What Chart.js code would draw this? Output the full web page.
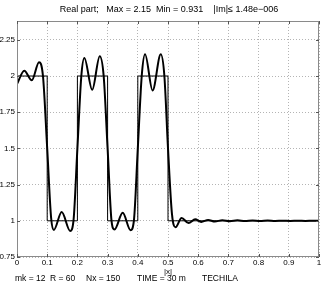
<!DOCTYPE html>
<html>
<head>
<meta charset="utf-8">
<script src="https://cdn.jsdelivr.net/npm/chart.js@4.4.1/dist/chart.umd.min.js"></script>
<style>
html,body{margin:0;padding:0;background:#fff;}
#wrap{width:323px;height:289px;position:relative;}
</style>
</head>
<body>
<div id="wrap"><canvas id="c" width="323" height="289"></canvas></div>
<script>
// Approximated solution (thick curve)
const curveX = [0,0.024,0.049,0.073,0.086,0.1,0.113,0.122,
  0.148,0.176,0.187,0.2,0.213,0.223,
  0.249,0.274,0.287,0.3,0.313,0.323,
  0.35,0.376,0.387,0.4,0.413,0.424,
  0.449,0.476,0.488,0.5,0.513,0.525,
  0.545,0.568,0.59,0.61,0.633,0.655,0.68,0.705,0.73,0.755,0.78,0.805,0.83,0.855,0.88,0.905,0.93,0.955,0.98,1];
const curveY = [1.944,2.037,1.97,2.095,2.0,1.5,1.02,0.937,
  1.06,0.93,1.0,1.5,2.0,2.125,
  1.905,2.137,2.0,1.5,1.0,0.94,
  1.055,0.935,1.0,1.5,2.0,2.15,
  1.9,2.15,2.0,1.5,1.05,0.955,
  1.02,0.984,1.01,0.992,1.006,0.995,1.004,0.997,1.003,0.998,1.002,0.999,1.002,0.999,1.001,0.999,1.001,0.999,1.001,1.0];
// Exact step profile (thin line)
const stepX = [0,0.1,0.2,0.3,0.4,0.5,1];
const stepY = [2,1,2,1,2,1,1];
const yTicks = [0.75,1,1.25,1.5,1.75,2,2.25];
const xTicks = [0,0.1,0.2,0.3,0.4,0.5,0.6,0.7,0.8,0.9,1];
const titleText = "Real part;   Max = 2.15  Min = 0.931    |Im|\u2264 1.48e\u2212006";
const footerParts = [["mk = 12",15],["R = 60",50],["Nx = 150",86],["TIME = 30 m",137],["TECHILA",202]];

const FONT = "Liberation Sans, Arial, Helvetica, sans-serif";
const fmt = v => String(+(+v).toFixed(2));

const textPlugin = {
  id: 'texts',
  afterDraw(chart) {
    const ctx = chart.ctx, a = chart.chartArea;
    const xs = chart.scales.x, ys = chart.scales.y;
    ctx.save();
    // box
    ctx.strokeStyle = '#8a8a8a';
    ctx.lineWidth = 1;
    ctx.strokeRect(a.left + 0.5, a.top + 0.5, a.right - a.left - 1, a.bottom - a.top - 1);
    // inward tick marks
    ctx.strokeStyle = '#555';
    ctx.beginPath();
    yTicks.forEach(v => {
      const p = Math.round(ys.getPixelForValue(v)) + 0.5;
      ctx.moveTo(a.left, p); ctx.lineTo(a.left + 3, p);
      ctx.moveTo(a.right, p); ctx.lineTo(a.right - 3, p);
    });
    xTicks.forEach(v => {
      const p = Math.round(xs.getPixelForValue(v)) + 0.5;
      ctx.moveTo(p, a.bottom); ctx.lineTo(p, a.bottom - 3);
      ctx.moveTo(p, a.top); ctx.lineTo(p, a.top + 3);
    });
    ctx.stroke();
    ctx.fillStyle = '#000';
    ctx.textBaseline = 'middle';
    ctx.textAlign = 'center';
    ctx.font = "9px " + FONT;
    ctx.fillText(titleText, 169, 10);
    ctx.textAlign = 'left';
    ctx.font = "8.5px " + FONT;
    footerParts.forEach(([t, x]) => ctx.fillText(t, x, 278.5));
    ctx.restore();
  }
};

new Chart(document.getElementById('c'), {
  type: 'line',
  data: {
    datasets: [
      {
        data: curveX.map((x, i) => ({x, y: curveY[i]})),
        borderColor: '#000', borderWidth: 2, pointRadius: 0,
        cubicInterpolationMode: 'monotone', fill: false
      },
      {
        data: stepX.map((x, i) => ({x, y: stepY[i]})),
        borderColor: '#000', borderWidth: 1, pointRadius: 0,
        stepped: 'before', fill: false
      }
    ]
  },
  options: {
    responsive: false,
    animation: false,
    layout: {padding: {top: 21, bottom: 12, right: 4, left: 0}},
    plugins: {legend: {display: false}, tooltip: {enabled: false}},
    scales: {
      x: {
        type: 'linear', min: 0, max: 1,
        afterFit: s => { s.height = 20; },
        afterBuildTicks: s => { s.ticks = xTicks.map(v => ({value: v})); },
        grid: {color: '#b4b4b4', drawTicks: false, lineWidth: 1},
        border: {display: false, dash: [1, 2]},
        ticks: {color: '#000', font: {size: 8, family: FONT}, padding: 1, callback: fmt, maxRotation: 0},
        title: {display: true, text: '|x|', color: '#000', font: {size: 8, family: FONT}, padding: {top: 0, bottom: 0}}
      },
      y: {
        type: 'linear', min: 0.75, max: 2.38,
        afterFit: s => { s.width = 17; },
        afterBuildTicks: s => { s.ticks = yTicks.map(v => ({value: v})); },
        grid: {color: '#b4b4b4', drawTicks: false, lineWidth: 1},
        border: {display: false, dash: [1, 2]},
        ticks: {color: '#000', font: {size: 8, family: FONT}, padding: 2, callback: fmt}
      }
    }
  },
  plugins: [textPlugin]
});
</script>
</body>
</html>
